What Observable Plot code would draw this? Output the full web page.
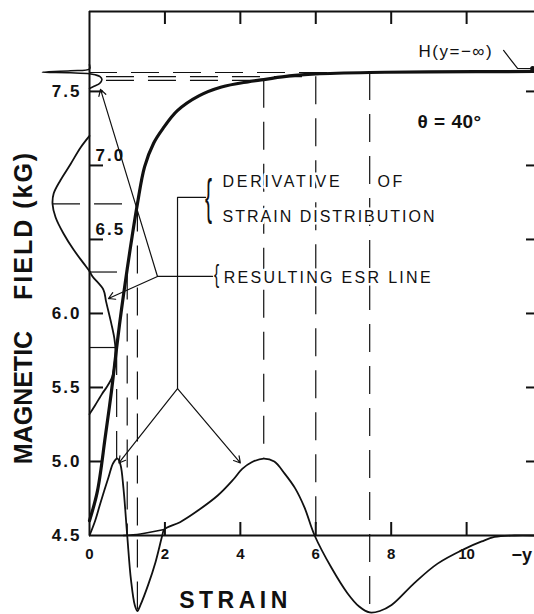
<!DOCTYPE html>
<html>
<head>
<meta charset="utf-8">
<script src="https://cdn.jsdelivr.net/npm/d3@7"></script>
<script src="https://cdn.jsdelivr.net/npm/@observablehq/plot@0.6"></script>
<style>
  html, body { margin: 0; padding: 0; background: #fff; }
  #chart svg { display: block; }
</style>
</head>
<body>
<div id="chart"></div>
<script>
// ---------- scales ----------
const xDomain = [0, 11.8];
const yDomain = [4.5, 8.04];

// ---------- tick values / labels ----------
const xTicks = [2, 4, 6, 8, 10];
const xTickLabels = [0, 2, 4, 6, 8, 10];
const yTicks = [5.0, 5.5, 6.0, 6.5, 7.0, 7.5];
const yLabelsOuter = [7.5, 6.0, 5.5, 5.0, 4.5];
const yLabelsInner = [7.0, 6.5];

// ---------- resonance field H(strain) (thick curve) ----------
const strainH = [0, 0.21, 0.42, 0.58, 0.72, 0.85, 1.0, 1.13, 1.27, 1.46, 1.7, 1.95, 2.33, 2.9, 3.5, 4.2, 4.62, 5.3, 6.0, 7.43, 9.0, 11.8];
const fieldH  = [4.6, 4.8, 5.17, 5.47, 5.77, 6.03, 6.3, 6.52, 6.74, 6.99, 7.15, 7.25, 7.37, 7.47, 7.53, 7.565, 7.58, 7.605, 7.618, 7.628, 7.632, 7.635];

// ---------- derivative of strain distribution ----------
const derivStrain = [0, 0.15, 0.29, 0.5, 0.63, 0.74, 0.82, 0.9, 1.0, 1.1, 1.2, 1.27, 1.35, 1.56, 1.75, 1.93, 1.98,
                     2.4, 2.8, 3.4, 3.82, 4.05, 4.3, 4.62, 4.9, 5.17, 5.45, 5.7, 5.97, 6.42, 6.84, 7.15, 7.43, 7.7, 8.01, 8.62, 9.23, 9.95, 10.4, 10.74, 11.27, 11.8];
const derivValue  = [4.5, 4.6, 4.72, 4.89, 4.99, 5.02, 4.98, 4.82, 4.5, 4.2, 4.03, 3.99, 4.03, 4.17, 4.32, 4.5, 4.54,
                     4.59, 4.655, 4.77, 4.88, 4.95, 4.995, 5.02, 5.0, 4.92, 4.82, 4.69, 4.5, 4.28, 4.11, 4.02, 3.98, 3.99, 4.03, 4.18, 4.31, 4.41, 4.46, 4.49, 4.5, 4.5];
// left tail of the broad component
const tailStrain = [0.9, 1.35, 1.98];
const tailValue  = [4.5, 4.51, 4.54];

// ---------- resulting ESR line (amplitude drawn along strain axis) ----------
const esrTopAmp   = [0, 0, -0.5, -1.25, -0.5, 0, 0.15, 0.28, 0.33, 0.27, 0.12, 0];
const esrTopField = [7.68, 7.652, 7.64, 7.63, 7.626, 7.62, 7.612, 7.6, 7.58, 7.555, 7.535, 7.52];
const esrLobeAmp   = [0, -0.24, -0.5, -0.77, -0.95, -0.98, -0.9, -0.69, -0.42, -0.16, 0, 0.08, 0.37, 0.44, 0.58, 0.66, 0.69, 0.66, 0.6, 0.45, 0.34, 0.15, 0];
const esrLobeField = [7.2, 7.12, 7.01, 6.9, 6.81, 6.74, 6.65, 6.54, 6.43, 6.34, 6.285, 6.25, 6.16, 6.08, 5.93, 5.83, 5.75, 5.65, 5.57, 5.5, 5.46, 5.38, 5.32];

// ---------- construction (dashed) lines ----------
const vdX      = [0.72, 1.0, 1.27, 4.62, 6.0, 7.43];
const vdTop    = [5.77, 6.28, 6.74, 7.575, 7.60, 7.628];
const vdBottom = [5.02, 4.5, 3.99, 5.02, 4.5, 3.98];
const hdY  = [6.74, 6.28, 5.77, 7.575, 7.60, 7.628];
const hdX1 = [-0.98, 0, 0, 0.45, 0.45, 0];
const hdX2 = [1.27, 1.0, 0.72, 4.62, 6.0, 7.43];

// ---------- annotations (data coordinates) ----------
const noteText = ["DERIVATIVE", "OF", "STRAIN DISTRIBUTION", "RESULTING ESR LINE"];
const noteX    = [3.527, 7.637, 3.527, 3.56];
const noteY    = [6.851, 6.851, 6.615, 6.209];
const hLabelText = ["H(y=\u2212\u221E)"];
const hLabelX = [8.725];
const hLabelY = [7.73];
const thetaText = ["\u03B8 = 40\u00B0"];
const thetaX = [8.698];
const thetaY = [7.25];
const axisTitleText = ["MAGNETIC", "FIELD (kG)"];
const axisTitleX = [-1.75, -1.75];
const axisTitleY = [5.432, 6.595];
const strainTitle = ["STRAIN"];
const strainTitleX = [3.87];
const strainTitleY = [4.007];
const minusYText = ["\u2212y"];
const minusYX = [11.19];

// leader lines
const derivLeaderX = [3.077, 2.334, 2.334];
const derivLeaderY = [6.784, 6.784, 5.493];
const derivArrowTo = [[0.78, 4.99], [4.0, 4.99]];
const esrLeaderX = [3.263, 1.803];
const esrLeaderY = [6.25, 6.25];
const esrArrowTo = [[0.292, 7.514], [0.504, 6.101]];
const hLeaderX = [10.98, 11.35, 11.75];
const hLeaderY = [7.777, 7.655, 7.655];
const braceBig = {x: [3.157], y: [6.777]};
const braceSmall = {x: [3.369], y: [6.264]};

// ---------- build tables ----------
const zip = (xs, ys) => xs.map((x, i) => ({x, y: ys[i]}));
const thick = zip(strainH, fieldH);
const deriv = zip(derivStrain, derivValue);
const tail = zip(tailStrain, tailValue);
const esrTop = zip(esrTopAmp, esrTopField);
const esrLobe = zip(esrLobeAmp, esrLobeField);
const vd = vdX.map((x, i) => ({x, y1: vdTop[i], y2: vdBottom[i]}));
const hd = hdY.map((y, i) => ({y, x1: hdX1[i], x2: hdX2[i]}));
const notes = noteText.map((t, i) => ({t, x: noteX[i], y: noteY[i]}));
const derivLeader = zip(derivLeaderX, derivLeaderY);
const esrLeader = zip(esrLeaderX, esrLeaderY);
const hLeader = zip(hLeaderX, hLeaderY);
const derivArrows = derivArrowTo.map(([x, y]) => ({x1: derivLeaderX[2], y1: derivLeaderY[2], x2: x, y2: y}));
const esrArrows = esrArrowTo.map(([x, y]) => ({x1: esrLeaderX[1], y1: esrLeaderY[1], x2: x, y2: y}));

const INK = "#111";
const FONT = "Liberation Sans, Arial, sans-serif";
const DASH = "28,14";

const svg = Plot.plot({
  width: 534,
  height: 614,
  marginLeft: 89,
  marginRight: 0,
  marginTop: 11,
  marginBottom: 79,
  x: {domain: xDomain, axis: null},
  y: {domain: yDomain, axis: null},
  style: {background: "#fff", fontFamily: FONT, color: INK},
  marks: [
    // dashed construction lines
    Plot.ruleX(vd, {x: "x", y1: "y1", y2: "y2", stroke: INK, strokeWidth: 1.2, strokeDasharray: DASH}),
    Plot.ruleY(hd, {y: "y", x1: "x1", x2: "x2", stroke: INK, strokeWidth: 1.2, strokeDasharray: DASH}),
    // annotation text with white halo (interrupts the dashed lines like the original lettering)
    Plot.text(notes, {x: "x", y: "y", text: "t", textAnchor: "start", lineAnchor: "bottom", fontSize: 16, fill: INK, stroke: "#fff", strokeWidth: 5}),
    // frame / axes
    Plot.ruleX([xDomain[0]], {stroke: INK, strokeWidth: 2}),
    Plot.ruleY([yDomain[0]], {stroke: INK, strokeWidth: 2}),
    Plot.ruleY([yDomain[1]], {stroke: INK, strokeWidth: 2}),
    Plot.ruleX(xTicks, {stroke: INK, strokeWidth: 2, insetBottom: 511}),
    Plot.ruleX(xTicks, {stroke: INK, strokeWidth: 2, insetTop: 511}),
    Plot.ruleY(yTicks, {stroke: INK, strokeWidth: 2, insetRight: 431}),
    Plot.ruleY(yTicks, {stroke: INK, strokeWidth: 2, insetLeft: 437}),
    // curves
    Plot.line(tail, {x: "x", y: "y", stroke: INK, strokeWidth: 1.6, curve: "catmull-rom"}),
    Plot.line(deriv, {x: "x", y: "y", stroke: INK, strokeWidth: 1.8, curve: "catmull-rom"}),
    Plot.line(esrTop, {x: "x", y: "y", stroke: INK, strokeWidth: 1.6, curve: "catmull-rom"}),
    Plot.line(esrLobe, {x: "x", y: "y", stroke: INK, strokeWidth: 1.8, curve: "catmull-rom"}),
    Plot.line(thick, {x: "x", y: "y", stroke: INK, strokeWidth: 3.2, curve: "catmull-rom"}),
    // leaders and arrows
    Plot.line(derivLeader, {x: "x", y: "y", stroke: INK, strokeWidth: 1.2}),
    Plot.line(esrLeader, {x: "x", y: "y", stroke: INK, strokeWidth: 1.2}),
    Plot.line(hLeader, {x: "x", y: "y", stroke: INK, strokeWidth: 1.2}),
    Plot.dot([hLeader[2]], {x: "x", y: "y", r: 2.5, fill: INK}),
    Plot.arrow(derivArrows, {x1: "x1", y1: "y1", x2: "x2", y2: "y2", stroke: INK, strokeWidth: 1.2, headLength: 9}),
    Plot.arrow(esrArrows, {x1: "x1", y1: "y1", x2: "x2", y2: "y2", stroke: INK, strokeWidth: 1.2, headLength: 9}),
    // tick labels
    Plot.text(xTickLabels, {x: d => d, y: yDomain[0], dy: 23, lineAnchor: "bottom", text: d => String(d), fontSize: 15, fontWeight: "bold", fill: INK}),
    Plot.text(minusYText, {x: minusYX, y: [yDomain[0]], dy: 25, lineAnchor: "bottom", textAnchor: "start", text: d => d, fontSize: 18, fontWeight: "bold", fill: INK}),
    Plot.text(yLabelsOuter, {x: xDomain[0], y: d => d, dx: -8, textAnchor: "end", lineAnchor: "middle", text: d => d.toFixed(1), fontSize: 17, fontWeight: "bold", fill: INK}),
    Plot.text(yLabelsInner, {x: xDomain[0], y: d => d, dx: 6, dy: -4, textAnchor: "start", lineAnchor: "bottom", text: d => d.toFixed(1), fontSize: 17, fontWeight: "bold", fill: INK}),
    // axis titles
    Plot.text(axisTitleText, {x: axisTitleX, y: axisTitleY, text: d => d, rotate: -90, textAnchor: "middle", lineAnchor: "middle", fontSize: 25, fontWeight: "bold", fill: INK}),
    Plot.text(strainTitle, {x: strainTitleX, y: strainTitleY, text: d => d, textAnchor: "middle", lineAnchor: "bottom", fontSize: 23, fontWeight: "bold", fill: INK}),
    // other annotations
    Plot.text(hLabelText, {x: hLabelX, y: hLabelY, text: d => d, textAnchor: "start", lineAnchor: "bottom", fontSize: 17, fill: INK}),
    Plot.text(thetaText, {x: thetaX, y: thetaY, text: d => d, textAnchor: "start", lineAnchor: "bottom", fontSize: 19, fontWeight: "bold", fill: INK}),
    Plot.text(["{"], {x: braceBig.x, y: braceBig.y, text: d => d, textAnchor: "middle", lineAnchor: "middle", fontSize: 50, fill: INK}),
    Plot.text(["{"], {x: braceSmall.x, y: braceSmall.y, text: d => d, textAnchor: "middle", lineAnchor: "middle", fontSize: 26, fill: INK})
  ]
});

// letter spacing for the hand-lettered look
const spacing = {
  "DERIVATIVE": "2.7px", "OF": "2.5px", "STRAIN DISTRIBUTION": "2.0px", "RESULTING ESR LINE": "2.3px",
  "H(y=\u2212\u221E)": "1.5px", "STRAIN": "4.5px", "MAGNETIC": "0px", "FIELD (kG)": "2px",
  "\u03B8 = 40\u00B0": "0.5px",
  "7.5": "2px", "7.0": "2px", "6.5": "2px", "6.0": "2px", "5.5": "2px", "5.0": "2px", "4.5": "2px"
};
d3.select(svg).selectAll("text").each(function() {
  const t = this.textContent;
  if (spacing[t]) this.style.letterSpacing = spacing[t];
  if (t === "{") {
    const tr = this.getAttribute("transform") || "";
    const big = +this.parentNode.getAttribute("font-size") > 30;
    this.setAttribute("transform", tr + (big ? " scale(0.42,1)" : " scale(0.6,1)"));
  }
});

document.getElementById("chart").appendChild(svg);
</script>
</body>
</html>
